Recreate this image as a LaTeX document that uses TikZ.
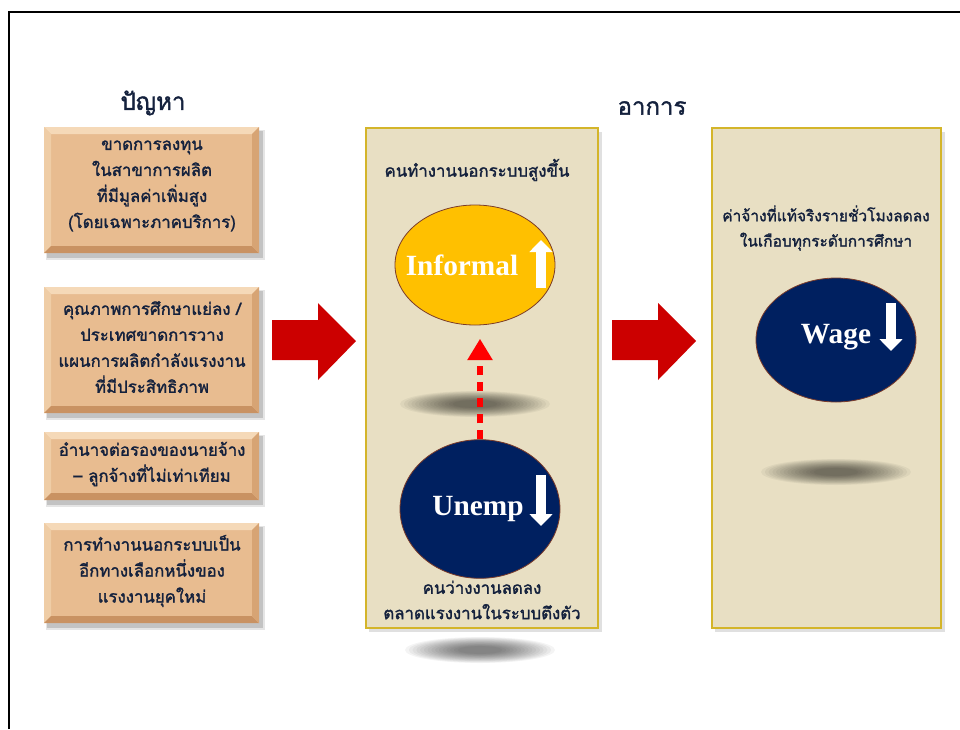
\documentclass[tikz,border=0pt]{standalone}
\usepackage{fontspec}
\newfontfamily\thaifont[Script=Thai,FakeBold=1.6]{Loma}
\newfontfamily\engfont{Liberation Serif}
\usetikzlibrary{arrows.meta,shapes.geometric}
\definecolor{boxface}{HTML}{E8BC90}
\definecolor{bevlight}{HTML}{F5D9B8}
\definecolor{bevleft}{HTML}{EFCDA6}
\definecolor{bevdark}{HTML}{C99262}
\definecolor{bevright}{HTML}{D7A474}
\definecolor{panelfill}{HTML}{E8DFC3}
\definecolor{panelline}{HTML}{D4B52A}
\definecolor{bigred}{HTML}{CC0000}
\definecolor{navy}{HTML}{002060}
\definecolor{gold}{HTML}{FFC000}
\definecolor{txt}{HTML}{14213D}
\definecolor{rim}{HTML}{7A3B2A}
\newcommand\bevelbox[4]{%
  \fill[black,opacity=0.10] (#1+2,#2+3) rectangle (#3+6,#4+7);
  \fill[black,opacity=0.15] (#1+3,#2+4) rectangle (#3+4,#4+5);
  \fill[boxface] (#1,#2) rectangle (#3,#4);
  \fill[bevlight] (#1,#2) -- (#3,#2) -- (#3-7,#2+7) -- (#1+7,#2+7) -- cycle;
  \fill[bevleft] (#1,#2) -- (#1+7,#2+7) -- (#1+7,#4-7) -- (#1,#4) -- cycle;
  \fill[bevdark] (#1,#4) -- (#1+7,#4-7) -- (#3-7,#4-7) -- (#3,#4) -- cycle;
  \fill[bevright] (#3,#2) -- (#3-7,#2+7) -- (#3-7,#4-7) -- (#3,#4) -- cycle;
}
\newcommand\softshadow[4]{% cx cy rx ry
  \foreach \k in {1.0,0.95,...,0.25} {
    \fill[black,opacity=0.045] (#1,#2) ellipse [x radius=#3*\k*0.75pt, y radius=#4*\k*0.75pt];
  }
}
\newcommand\bigarrow[2]{% left x, top y
  \fill[bigred] (#1,#2+17) -- (#1+46,#2+17) -- (#1+46,#2) -- (#1+84,#2+38) -- (#1+46,#2+77) -- (#1+46,#2+57) -- (#1,#2+57) -- cycle;
}
\tikzset{
  boxtext/.style={font=\thaifont\fontsize{12.6}{19.5}\selectfont, text=txt, align=center, inner sep=0pt},
  paneltext/.style={font=\thaifont\fontsize{12.6}{19}\selectfont, text=txt, align=center, inner sep=0pt},
  paneltextb/.style={font=\thaifont\fontsize{11.6}{19}\selectfont, text=txt, align=center, inner sep=0pt},
  titletext/.style={font=\thaifont\fontsize{18}{20}\selectfont, text=txt, inner sep=0pt},
  blob/.style={ellipse, draw=rim, line width=0.6pt, inner sep=0pt},
  blobtext/.style={font=\engfont\bfseries\fontsize{22}{24}\selectfont, text=white, inner sep=0pt},
  whitearrow/.style={white, line width=7pt, -{Triangle[width=17pt,length=9pt]}},
}
\begin{document}
\begin{tikzpicture}[x=0.75pt,y=-0.75pt]
\useasboundingbox (0,0) rectangle (960,729);
% frame
\draw[black, line width=0.8pt] (9,729) -- (9,12) -- (960,12);

% titles
\node[titletext] (t1) at (153,103) {ปัญหา};
\node[titletext] (t2) at (652,108) {อาการ};

% left boxes
\bevelbox{44}{127}{259}{253}
\bevelbox{44}{287}{259}{413}
\bevelbox{44}{432}{259}{500}
\bevelbox{44}{523}{259}{623}
\node[boxtext] (p1) at (152,186) {ขาดการลงทุน\\ในสาขาการผลิต\\ที่มีมูลค่าเพิ่มสูง\\(โดยเฉพาะภาคบริการ)};
\node[boxtext] (p2) at (152,347) {คุณภาพการศึกษาแย่ลง /\\ประเทศขาดการวาง\\แผนการผลิตกำลังแรงงาน\\ที่มีประสิทธิภาพ};
\node[boxtext] (p3) at (152,464) {อำนาจต่อรองของนายจ้าง\\– ลูกจ้างที่ไม่เท่าเทียม};
\node[boxtext] (p4) at (152,571) {การทำงานนอกระบบเป็น\\อีกทางเลือกหนึ่งของ\\แรงงานยุคใหม่};

% big arrows
\bigarrow{272}{303}
\bigarrow{612}{303}

% panels
\fill[black,opacity=0.12] (369,132) rectangle (602,632);
\fill[black,opacity=0.12] (715,132) rectangle (945,632);
\draw[panelline, line width=1.5pt, fill=panelfill] (366,128) rectangle (598,628);
\draw[panelline, line width=1.5pt, fill=panelfill] (712,128) rectangle (941,628);

% shadows
\softshadow{475}{404}{75}{13}
\softshadow{480}{650}{75}{13}
\softshadow{836}{472}{75}{13}

% panel 1
\node[paneltext] (s1) at (477,170) {คนทำงานนอกระบบสูงขึ้น};
\node[blob, fill=gold, minimum width=120pt, minimum height=90pt] (informal) at (475,265) {};
\node[blob, fill=navy, minimum width=120pt, minimum height=104pt] (unemp) at (480,509) {};
\node[blobtext] (inftext) at (462,265) {Informal};
\draw[whitearrow] (541,288) -- (541,240);
\node[blobtext] (unetext) at (478,509) {Unemp};
\draw[whitearrow] (541,475) -- (541,526);
\draw[red, line width=5pt, dash pattern=on 7pt off 5pt, -{Triangle[width=18pt,length=16pt]}] (unemp.north) -- ([yshift=-10pt]unemp.north |- informal.south);
\node[paneltext] (s2) at (482,600) {คนว่างงานลดลง\\ตลาดแรงงานในระบบตึงตัว};

% panel 2
\node[paneltextb] (w1) at (826,228) {ค่าจ้างที่แท้จริงรายชั่วโมงลดลง\\ในเกือบทุกระดับการศึกษา};
\node[blob, fill=navy, minimum width=120pt, minimum height=93pt] (wage) at (836,340) {};
\node[blobtext] (wagetext) at (836,337) {Wage};
\draw[whitearrow] (891,303) -- (891,351);
\end{tikzpicture}
\end{document}
